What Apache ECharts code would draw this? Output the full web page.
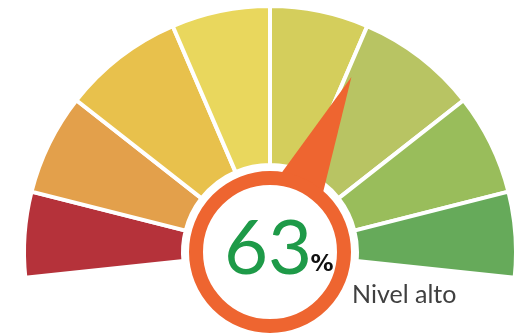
<!DOCTYPE html>
<html>
<head>
<meta charset="utf-8">
<script src="https://cdn.jsdelivr.net/npm/echarts@6/dist/echarts.min.js"></script>
<style>
  html, body { margin: 0; padding: 0; background: #fff; }
  #chart { width: 521px; height: 333px; }
</style>
</head>
<body>
<div id="chart"></div>
<script>
// Band widths (degrees of arc) from the low end to the high end
const bandSpans = [20.2, 23.9, 28.6, 23.3, 23.3, 28.6, 23.9, 20.2];
const bandColors = ['#B5323A', '#E3A04B', '#E8C14C', '#E9D75D', '#D4CE5C', '#B8C463', '#99BD5B', '#66AA5A'];
const gaugeValue = 63;
const gaugeMin = 0;
const gaugeMax = 100;
const levelLabel = 'Nivel alto';

const center = [270, 252];
const totalSpan = bandSpans.reduce((a, b) => a + b, 0);
const startAngle = 90 + totalSpan / 2;
const endAngle = 90 - totalSpan / 2;

const ringColor = '#EE6530';

const pieData = bandSpans.map((s, i) => ({ value: s, itemStyle: { color: bandColors[i] } }));
pieData.push({ value: 360 - totalSpan, itemStyle: { color: 'rgba(0,0,0,0)', borderWidth: 0 } });

const chart = echarts.init(document.getElementById('chart'), null, { renderer: 'canvas' });
chart.setOption({
  backgroundColor: '#ffffff',
  animation: false,
  series: [
    {
      type: 'pie',
      silent: true,
      center: center,
      radius: [87, 246],
      startAngle: startAngle,
      clockwise: true,
      label: { show: false },
      labelLine: { show: false },
      itemStyle: { borderColor: '#ffffff', borderWidth: 4 },
      emphasis: { disabled: true },
      data: pieData,
      z: 1
    },
    {
      type: 'gauge',
      silent: true,
      center: center,
      radius: 193,
      startAngle: startAngle,
      endAngle: endAngle,
      min: gaugeMin,
      max: gaugeMax,
      axisLine: { show: false },
      axisTick: { show: false },
      splitLine: { show: false },
      axisLabel: { show: false },
      progress: { show: false },
      title: { show: false },
      detail: { show: false },
      pointer: {
        show: true,
        icon: 'triangle',
        length: '100%',
        width: 76,
        offsetCenter: [0, 0],
        itemStyle: { color: ringColor }
      },
      anchor: {
        show: true,
        showAbove: true,
        icon: 'circle',
        size: 148,
        itemStyle: { color: '#ffffff', borderColor: ringColor, borderWidth: 14 }
      },
      data: [{ value: gaugeValue }],
      z: 2
    }
  ],
  graphic: [
    {
      type: 'text',
      z: 10,
      x: 268,
      y: 249,
      style: {
        text: String(gaugeValue),
        font: 'normal 76px Lato, "Open Sans", sans-serif',
        fill: '#1E9A48',
        align: 'center',
        verticalAlign: 'middle'
      }
    },
    {
      type: 'text',
      z: 10,
      x: 322,
      y: 265,
      style: {
        text: '%',
        font: 'bold 23px "DejaVu Sans", sans-serif',
        fill: '#111111',
        align: 'center',
        verticalAlign: 'middle'
      }
    },
    {
      type: 'text',
      z: 10,
      x: 352,
      y: 295,
      style: {
        text: levelLabel,
        font: 'normal 25px Lato, "Open Sans", sans-serif',
        fill: '#404040',
        align: 'left',
        verticalAlign: 'middle'
      }
    }
  ]
});
</script>
</body>
</html>
